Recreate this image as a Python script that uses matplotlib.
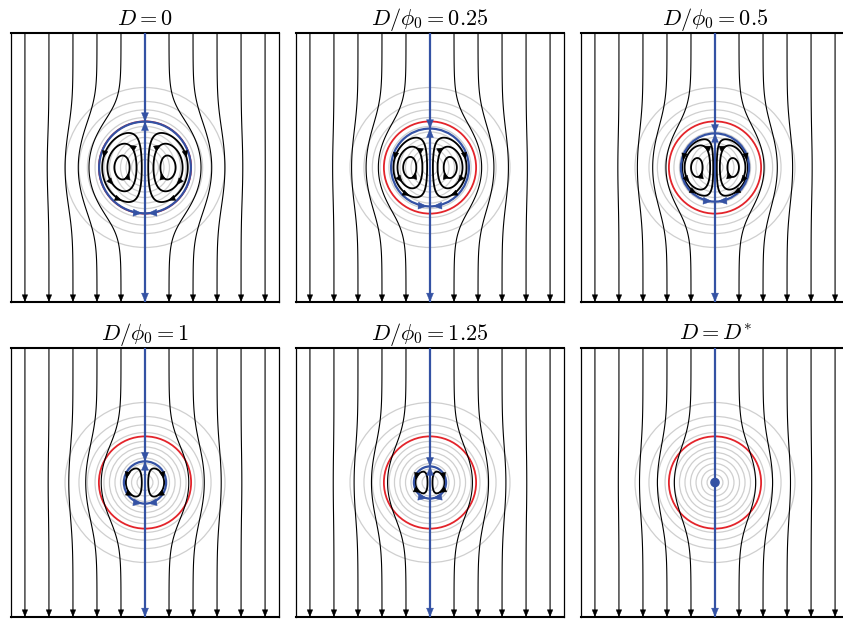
import numpy as np
import matplotlib
matplotlib.use('Agg')
import matplotlib.pyplot as plt
from matplotlib.patches import Circle, FancyArrowPatch

plt.rcParams['mathtext.fontset'] = 'cm'

# panel titles, row by row
titles = [r'$D=0$', r'$D/\phi_0=0.25$', r'$D/\phi_0=0.5$',
          r'$D/\phi_0=1$', r'$D/\phi_0=1.25$', r'$D=D^{*}$']
# radius of the separatrix (blue circle) for each panel
sep_radius = [1.91, 1.62, 1.42, 0.88, 0.67, 0.0]
# closed streamlines inside the separatrix, as fractions of the eye value
loop_fracs = [[0.22, 0.55, 0.87], [0.22, 0.55, 0.87], [0.15, 0.4, 0.87],
              [0.4], [0.4], []]
# arrow angles (deg, around the left eye) for each loop, outer to inner
loop_arrows = [[153, 270], [73, 244], [325]]
red_radius = 1.92
ring_radii = [3.33, 2.75, 2.40, 2.08, 1.71, 1.48, 1.25, 1.02, 0.79, 0.56, 0.33]
inlet_x = [-5, -4, -3, -2, -1, 1, 2, 3, 4, 5]

S2 = 3.2
XL, YL = 5.58, 5.6
BLUE = '#3452a4'
RED = '#e3242b'
GRAY = '#cfcfcf'


def stream(x, y, a):
    k = np.exp(a ** 2 / S2)
    e = np.exp(-(x ** 2 + y ** 2) / S2)
    return x * (1 - k * e)


def velocity(x, y, a):
    k = np.exp(a ** 2 / S2)
    e = np.exp(-(x ** 2 + y ** 2) / S2)
    dpx = 1 - k * e + 2 * k * x * x * e / S2
    dpy = 2 * k * x * y * e / S2
    return np.array([dpy, -dpx])


def head(ax, tip, d, color, ms=8, z=6):
    d = np.asarray(d, float)
    d = d / np.hypot(*d)
    tip = np.asarray(tip, float)
    ax.add_patch(FancyArrowPatch(tip - 0.25 * d, tip,
                                 arrowstyle='-|>,head_length=0.6,head_width=0.25',
                                 mutation_scale=ms, fc=color, ec=color, lw=0.3,
                                 shrinkA=0, shrinkB=0, zorder=z))


def on_level(xe, level, theta, a):
    t = np.linspace(0, 2 * a, 3000)
    px = xe + t * np.cos(theta)
    py = t * np.sin(theta)
    vals = stream(px, py, a) - level
    i = np.nonzero(np.sign(vals[1:]) != np.sign(vals[:-1]))[0][0]
    f = vals[i] / (vals[i] - vals[i + 1])
    return px[i] + f * (px[i + 1] - px[i]), py[i] + f * (py[i + 1] - py[i])


fig = plt.figure(figsize=(8.43, 6.21), dpi=100)
W, H = 843, 621
lefts = [11, 296, 581]
tops = [33, 348]
pw, ph = 268, 269

xs = np.linspace(-XL, XL, 601)
ys = np.linspace(-YL, YL, 601)
X, Y = np.meshgrid(xs, ys)
R = np.hypot(X, Y)

for n in range(6):
    row, col = divmod(n, 3)
    ax = fig.add_axes([lefts[col] / W, 1 - (tops[row] + ph) / H, pw / W, ph / H])
    ax.set_xlim(-XL, XL)
    ax.set_ylim(-YL, YL)
    ax.set_xticks([])
    ax.set_yticks([])
    for side in ['top', 'bottom']:
        ax.spines[side].set_linewidth(1.5)
    for side in ['left', 'right']:
        ax.spines[side].set_linewidth(0.9)
    ax.set_title(titles[n], fontsize=16, pad=6)

    a = sep_radius[n]
    psi = stream(X, Y, a)

    for rr in ring_radii:
        ax.add_patch(Circle((0, 0), rr, fill=False, ec=GRAY, lw=0.9, zorder=1))
    ax.add_patch(Circle((0, 0), red_radius, fill=False, ec=RED, lw=1.3, zorder=2))

    # streamlines of the outer flow
    ax.contour(X, Y, np.where(R >= a, psi, np.nan), levels=inlet_x,
               colors='k', linewidths=0.8, linestyles='solid', zorder=3)
    for x0 in inlet_x:
        head(ax, (x0, -YL), (0, -1), 'k', ms=8)

    # recirculating pair inside the separatrix
    if a > 0:
        xr = np.linspace(0, a, 4000)
        pr = stream(xr, 0 * xr, a)
        xe = xr[np.argmin(pr)]
        pe = pr.min()
        fr = loop_fracs[n]
        lv = sorted([f * pe for f in fr] + [-f * pe for f in fr])
        ax.contour(X, Y, np.where(R < a, psi, np.nan), levels=lv,
                   colors='k', linewidths=1.3, linestyles='solid', zorder=3)
        for j, f in enumerate(fr):
            for ang in loop_arrows[j]:
                px, py = on_level(xe, f * pe, np.radians(180 - ang), a)
                for s in (-1, 1):
                    head(ax, (s * px, py), velocity(s * px, py, a), 'k', ms=8)

        ax.add_patch(Circle((0, 0), a, fill=False, ec=BLUE, lw=1.6, zorder=4))
        ax.plot([0, 0], [-YL, YL], color=BLUE, lw=1.6, zorder=4)
        head(ax, (0, a), (0, -1), BLUE, ms=10)
        head(ax, (0, a), (0, 1), BLUE, ms=10)
        dl = 0.12 / a
        for s in (-1, 1):
            ph_ = -np.pi / 2 + s * dl
            tip = (a * np.cos(ph_), a * np.sin(ph_))
            d = (s * np.sin(ph_), -s * np.cos(ph_))
            head(ax, tip, d, BLUE, ms=10)
    else:
        ax.plot([0, 0], [-YL, YL], color=BLUE, lw=1.6, zorder=4)
        ax.add_patch(Circle((0, 0), 0.17, color=BLUE, zorder=5))
    head(ax, (0, -YL), (0, -1), BLUE, ms=10)

fig.savefig('out.png', dpi=100)
